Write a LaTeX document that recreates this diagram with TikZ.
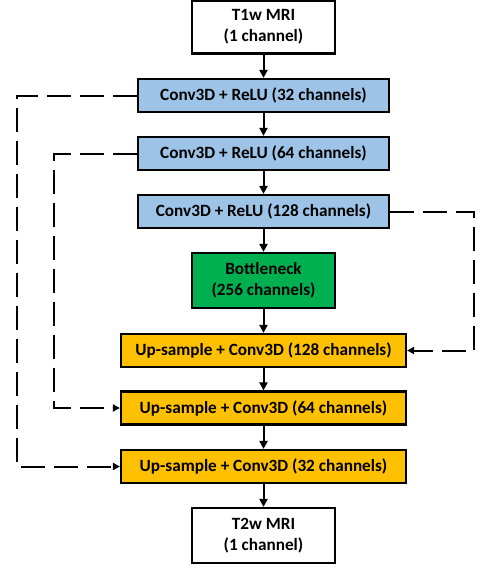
\documentclass[tikz,border=0pt]{standalone}
\usepackage{fontspec}
\setmainfont{Carlito}
\usetikzlibrary{arrows.meta}

\definecolor{encblue}{HTML}{9DC3E6}
\definecolor{bngreen}{HTML}{00B050}
\definecolor{decgold}{HTML}{FFC000}

\begin{document}
\begin{tikzpicture}[x=1pt,y=-1pt,
  box/.style={draw,line width=2.2pt,align=center,inner sep=0pt,
    font=\fontsize{17.2}{21}\selectfont\bfseries},
  io/.style={box,fill=white,minimum width=143pt,minimum height=53pt},
  enc/.style={box,fill=encblue,minimum width=251pt,minimum height=33pt},
  dec/.style={box,fill=decgold,minimum width=285pt,minimum height=33pt},
  flow/.style={line width=2pt,-{Triangle[length=8pt,width=8pt]}},
  skip/.style={line width=2pt,dash pattern=on 24pt off 9pt,-{Triangle[length=7pt,width=7pt]}}]
\useasboundingbox (0,0) rectangle (485,568);

% main path
\node[io] (t1) at (263.5,27) {T1w MRI\\(1 channel)};
\node[enc] (c32) at (263.5,95.5) {Conv3D + ReLU (32 channels)};
\node[enc] (c64) at (263.5,153.5) {Conv3D + ReLU (64 channels)};
\node[enc] (c128) at (263.5,211.5) {Conv3D + ReLU (128 channels)};
\node[io,fill=bngreen,minimum height=55pt] (bn) at (263.5,280.5) {Bottleneck\\(256 channels)};
\node[dec] (u128) at (263.5,350.5) {Up-sample + Conv3D (128 channels)};
\node[dec] (u64) at (263.5,408) {Up-sample + Conv3D (64 channels)};
\node[dec] (u32) at (263.5,466.5) {Up-sample + Conv3D (32 channels)};
\node[io,minimum height=55pt] (t2) at (263.5,535.5) {T2w MRI\\(1 channel)};

\draw[flow] (t1) -- (c32);
\draw[flow] (c32) -- (c64);
\draw[flow] (c64) -- (c128);
\draw[flow] (c128) -- (bn);
\draw[flow] (bn) -- (u128);
\draw[flow] (u128) -- (u64);
\draw[flow] (u64) -- (u32);
\draw[flow] (u32) -- (t2);

% skip connections
\coordinate (outer) at (17,0);
\coordinate (inner) at (54,0);
\coordinate (right) at (474,0);
\draw[skip] (c32.west) -- (c32.west -| outer) |- (u32.west);
\draw[skip] (c64.west) -- (c64.west -| inner) |- (u64.west);
\draw[skip] (c128.east) -- (c128.east -| right) |- (u128.east);
\end{tikzpicture}
\end{document}
